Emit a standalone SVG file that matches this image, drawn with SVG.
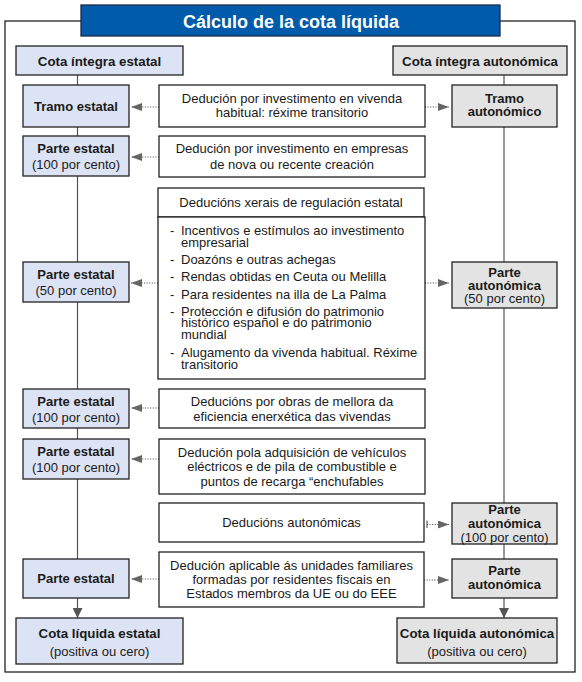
<svg xmlns="http://www.w3.org/2000/svg" width="582" height="682" viewBox="0 0 582 682">
<defs>
<style>
.box{stroke:#222;stroke-width:1.3}
.e{fill:#DCE3F4}
.a{fill:#E3E3E3}
.w{fill:#fff}
text{font-family:"Liberation Sans",Arial,sans-serif;fill:#1a1a1a;font-size:13px}
.b{font-weight:bold}
.h{font-weight:bold;font-size:13.3px}
.m{text-anchor:middle}
.v{stroke:#555;stroke-width:1.2;fill:none}
.d{stroke:#444;stroke-width:1;stroke-dasharray:1 1.6;fill:none}
</style>
<marker id="ah" viewBox="0 0 11 8" refX="11" refY="4" markerWidth="11" markerHeight="8" markerUnits="userSpaceOnUse" orient="auto">
<path d="M0,0 L11,4 L0,8 Z" fill="#666"/>
</marker>
<marker id="ad" viewBox="0 0 10 10" refX="10" refY="5" markerWidth="10" markerHeight="10" markerUnits="userSpaceOnUse" orient="auto">
<path d="M0,0 L10,5 L0,10 Z" fill="#555"/>
</marker>
</defs>
<rect width="582" height="682" fill="#fff"/>
<g id="frame">
<rect x="5" y="21" width="570" height="651" fill="none" stroke="#222" stroke-width="1.3"/>
<rect x="81" y="5" width="419" height="31" fill="#005BAA" stroke="#1b2a4e" stroke-width="1.3"/>
<text x="291" y="27.5" class="m b" style="font-size:18px;fill:#fff">Cálculo de la cota líquida</text>
</g>
<g id="connectors">
<path class="v" d="M77.5,75 V598"/>
<path class="v" d="M504,75 V598"/>
<path class="v" d="M77.5,598 V618" marker-end="url(#ad)"/>
<path class="v" d="M504,598 V618" marker-end="url(#ad)"/>
<path class="d" d="M159,107 H131" marker-end="url(#ah)"/>
<path class="d" d="M425,107 H449" marker-end="url(#ah)"/>
<path class="d" d="M159,157 H131" marker-end="url(#ah)"/>
<path class="d" d="M158,283 H131" marker-end="url(#ah)"/>
<path class="d" d="M425,283 H449" marker-end="url(#ah)"/>
<path class="d" d="M159,408 H131" marker-end="url(#ah)"/>
<path class="d" d="M159,459 H131" marker-end="url(#ah)"/>
<path class="d" d="M427,524.5 H449" marker-end="url(#ah)"/>
<path d="M427,520.5 V528" stroke="#444" stroke-width="1"/>
<path class="d" d="M159,579 H131" marker-end="url(#ah)"/>
<path class="d" d="M424,580 H449" marker-end="url(#ah)"/>
</g>
<g id="cota-integra-estatal">
<rect class="box e" x="16" y="46" width="167" height="29"/>
<text x="99.5" y="65.5" class="m h">Cota íntegra estatal</text>
</g>
<g id="cota-integra-autonomica">
<rect class="box a" x="393" y="46" width="174" height="29"/>
<text x="480" y="65.5" class="m h">Cota íntegra autonómica</text>
</g>
<g id="tramo-estatal">
<rect class="box e" x="23" y="85" width="106" height="42"/>
<text x="76" y="110.5" class="m b">Tramo estatal</text>
</g>
<g id="tramo-autonomico">
<rect class="box a" x="452" y="85" width="105" height="42"/>
<text x="504.5" y="103.3" class="m b">Tramo</text>
<text x="504.5" y="116.3" class="m b">autonómico</text>
</g>
<g id="ded-vivenda">
<rect class="box w" x="159" y="85" width="266" height="42"/>
<text x="292" y="103" class="m">Dedución por investimento en vivenda</text>
<text x="292" y="116.5" class="m">habitual: réxime transitorio</text>
</g>
<g id="parte-estatal-1">
<rect class="box e" x="23" y="136" width="106" height="40"/>
<text x="76" y="153.3" class="m b">Parte estatal</text>
<text x="76" y="169" class="m">(100 por cento)</text>
</g>
<g id="ded-empresas">
<rect class="box w" x="159" y="136" width="266" height="41"/>
<text x="292" y="153" class="m">Dedución por investimento en empresas</text>
<text x="292" y="168.5" class="m">de nova ou recente creación</text>
</g>
<g id="ded-xerais">
<rect class="box w" x="158" y="188" width="266" height="29"/>
<text x="291" y="207" class="m">Deducións xerais de regulación estatal</text>
<rect class="box w" x="158" y="217" width="267" height="162"/>
<text x="170" y="235">-</text><text x="181" y="235">Incentivos e estímulos ao investimento</text>
<text x="181" y="246.5">empresarial</text>
<text x="170" y="263.5">-</text><text x="181" y="263.5">Doazóns e outras achegas</text>
<text x="170" y="281">-</text><text x="181" y="281">Rendas obtidas en Ceuta ou Melilla</text>
<text x="170" y="298.5">-</text><text x="181" y="298.5">Para residentes na illa de La Palma</text>
<text x="170" y="315.5">-</text><text x="181" y="315.5">Protección e difusión do patrimonio</text>
<text x="181" y="327">histórico español e do patrimonio</text>
<text x="181" y="338.5">mundial</text>
<text x="170" y="357">-</text><text x="181" y="357">Alugamento da vivenda habitual. Réxime</text>
<text x="181" y="369">transitorio</text>
</g>
<g id="parte-estatal-50">
<rect class="box e" x="23" y="262" width="106" height="40"/>
<text x="76" y="279.3" class="m b">Parte estatal</text>
<text x="76" y="295" class="m">(50 por cento)</text>
</g>
<g id="parte-autonomica-50">
<rect class="box a" x="452" y="262" width="105" height="46"/>
<text x="504.5" y="276.7" class="m b">Parte</text>
<text x="504.5" y="289.5" class="m b">autonómica</text>
<text x="504.5" y="302.5" class="m">(50 por cento)</text>
</g>
<g id="parte-estatal-2">
<rect class="box e" x="23" y="389" width="106" height="39"/>
<text x="76" y="406" class="m b">Parte estatal</text>
<text x="76" y="421.7" class="m">(100 por cento)</text>
</g>
<g id="ded-eficiencia">
<rect class="box w" x="159" y="389" width="266" height="39"/>
<text x="292" y="406" class="m">Deducións por obras de mellora da</text>
<text x="292" y="421" class="m">eficiencia enerxética das vivendas</text>
</g>
<g id="parte-estatal-3">
<rect class="box e" x="23" y="439" width="106" height="40"/>
<text x="76" y="456" class="m b">Parte estatal</text>
<text x="76" y="471.7" class="m">(100 por cento)</text>
</g>
<g id="ded-vehiculos">
<rect class="box w" x="159" y="439" width="266" height="55"/>
<text x="292" y="456.5" class="m">Dedución pola adquisición de vehículos</text>
<text x="292" y="471" class="m">eléctricos e de pila de combustible e</text>
<text x="292" y="485.5" class="m">puntos de recarga “enchufables</text>
</g>
<g id="ded-autonomicas">
<rect class="box w" x="159" y="503" width="265" height="39"/>
<text x="291.5" y="526.7" class="m">Deducións autonómicas</text>
</g>
<g id="parte-autonomica-100">
<rect class="box a" x="452" y="503" width="105" height="41"/>
<text x="504.5" y="514" class="m b">Parte</text>
<text x="504.5" y="527.7" class="m b">autonómica</text>
<text x="504.5" y="541.5" class="m">(100 por cento)</text>
</g>
<g id="parte-estatal-4">
<rect class="box e" x="23" y="559" width="106" height="39"/>
<text x="76" y="583" class="m b">Parte estatal</text>
</g>
<g id="ded-ue">
<rect class="box w" x="159" y="552" width="265" height="55"/>
<text x="291.5" y="570" class="m">Dedución aplicable ás unidades familiares</text>
<text x="291.5" y="584.3" class="m">formadas por residentes fiscais en</text>
<text x="291.5" y="598.3" class="m">Estados membros da UE ou do EEE</text>
</g>
<g id="parte-autonomica-4">
<rect class="box a" x="452" y="559" width="105" height="39"/>
<text x="504.5" y="575" class="m b">Parte</text>
<text x="504.5" y="589" class="m b">autonómica</text>
</g>
<g id="cota-liquida-estatal">
<rect class="box e" x="16" y="618" width="167" height="46"/>
<text x="99.5" y="637.7" class="m h">Cota líquida estatal</text>
<text x="99.5" y="656" class="m">(positiva ou cero)</text>
</g>
<g id="cota-liquida-autonomica">
<rect class="box a" x="397" y="618" width="160" height="45"/>
<text x="477" y="637.7" class="m h">Cota líquida autonómica</text>
<text x="477" y="656" class="m">(positiva ou cero)</text>
</g>
</svg>
